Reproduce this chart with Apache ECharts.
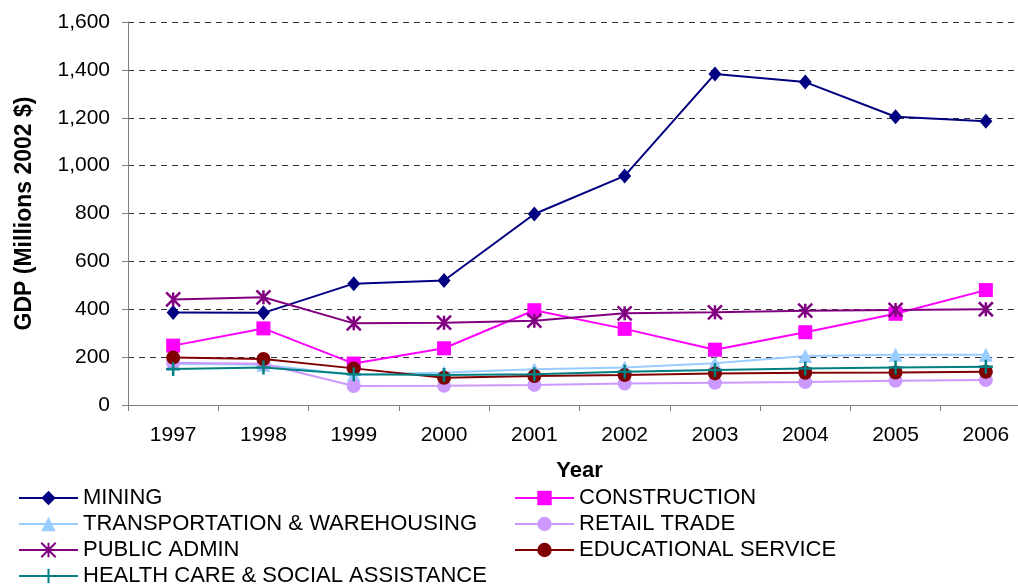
<!DOCTYPE html>
<html>
<head>
<meta charset="utf-8">
<script src="https://cdn.jsdelivr.net/npm/echarts@6/dist/echarts.min.js"></script>
<style>
html, body { margin: 0; padding: 0; background: #fff; overflow: hidden; width: 1018px; height: 586px; }
#chart { width: 1040px; height: 586px; }
</style>
</head>
<body>
<div id="chart"></div>
<script>
let years = ["1997", "1998", "1999", "2000", "2001", "2002", "2003", "2004", "2005", "2006"];
let mining = [386, 385, 507, 520, 798, 957, 1383, 1349, 1204, 1185];
let construction = [248, 320, 173, 237, 396, 318, 231, 304, 381, 480];
let transportation = [172, 168, 125, 136, 149, 157, 174, 205, 210, 210];
let retailTrade = [177, 172, 79, 80, 84, 90, 93, 96, 101, 104];
let publicAdmin = [441, 450, 341, 344, 352, 383, 387, 394, 397, 400];
let educational = [198, 192, 153, 114, 121, 125, 132, 135, 136, 139];
let healthCare = [150, 157, 128, 125, 128, 139, 146, 153, 157, 160];

let font = "Liberation Sans, Arial, sans-serif";
let chart = echarts.init(document.getElementById("chart"));

function makeSeries(name, data, color, symbol, size, stroked) {
    let s = {
        name: name,
        type: "line",
        data: data,
        symbol: symbol,
        symbolSize: size,
        lineStyle: { color: color, width: 2 },
        itemStyle: { color: color },
        emphasis: { disabled: true },
        animation: false
    };
    if (stroked) {
        s.itemStyle.borderColor = color;
        s.itemStyle.borderWidth = 2.5;
    }
    return s;
}

let legendText = { fontSize: 22, lineHeight: 22, color: "#000", fontFamily: font };

let option = {
    backgroundColor: "#fff",
    textStyle: { fontFamily: font },
    grid: { left: 128, right: 9, top: 22, bottom: 181 },
    legend: [
        {
            data: ["MINING", "TRANSPORTATION & WAREHOUSING", "PUBLIC ADMIN", "HEALTH CARE & SOCIAL ASSISTANCE"],
            orient: "vertical",
            left: 18,
            top: 487,
            height: 130,
            padding: 0,
            itemWidth: 59,
            itemHeight: 18,
            itemGap: 4,
            textStyle: legendText
        },
        {
            data: ["CONSTRUCTION", "RETAIL TRADE", "EDUCATIONAL SERVICE"],
            orient: "vertical",
            left: 514,
            top: 487,
            height: 130,
            padding: 0,
            itemWidth: 59,
            itemHeight: 18,
            itemGap: 4,
            textStyle: legendText
        }
    ],
    xAxis: {
        type: "category",
        data: years,
        name: "Year",
        nameLocation: "middle",
        nameGap: 55,
        nameTextStyle: { fontSize: 22, fontWeight: "bold", color: "#000", fontFamily: font },
        axisLine: { lineStyle: { color: "#808080", width: 1 } },
        axisTick: { show: true, length: 6, lineStyle: { color: "#808080" } },
        axisLabel: { fontSize: 21, color: "#000", margin: 20, fontFamily: font }
    },
    yAxis: {
        type: "value",
        min: 0,
        max: 1600,
        interval: 200,
        name: "GDP (Millions 2002 $)",
        nameLocation: "middle",
        nameGap: 92,
        nameTextStyle: { fontSize: 23, fontWeight: "bold", color: "#000", fontFamily: font },
        axisLine: { show: true, lineStyle: { color: "#808080", width: 1 } },
        axisTick: { show: true, length: 6, lineStyle: { color: "#808080" } },
        axisLabel: {
            fontSize: 21,
            color: "#000",
            margin: 18,
            fontFamily: font,
            formatter: function(value) {
                return value.toLocaleString("en-US");
            }
        },
        splitLine: { show: true, lineStyle: { type: [6, 5], color: "#333", width: 1 } }
    },
    series: [
        makeSeries("MINING", mining, "#000080", "diamond", [13, 15]),
        makeSeries("CONSTRUCTION", construction, "#FF00FF", "rect", 14),
        makeSeries("TRANSPORTATION & WAREHOUSING", transportation, "#99CCFF", "triangle", 14),
        makeSeries("RETAIL TRADE", retailTrade, "#CC99FF", "circle", 14),
        makeSeries("PUBLIC ADMIN", publicAdmin, "#800080", "path://M0,0L10,10M10,0L0,10M5,0L5,10", 14, true),
        makeSeries("EDUCATIONAL SERVICE", educational, "#800000", "circle", 14),
        makeSeries("HEALTH CARE & SOCIAL ASSISTANCE", healthCare, "#008080", "path://M5,0L5,10M0,5L10,5", 14, true)
    ]
};
chart.setOption(option, true);
</script>
</body>
</html>
